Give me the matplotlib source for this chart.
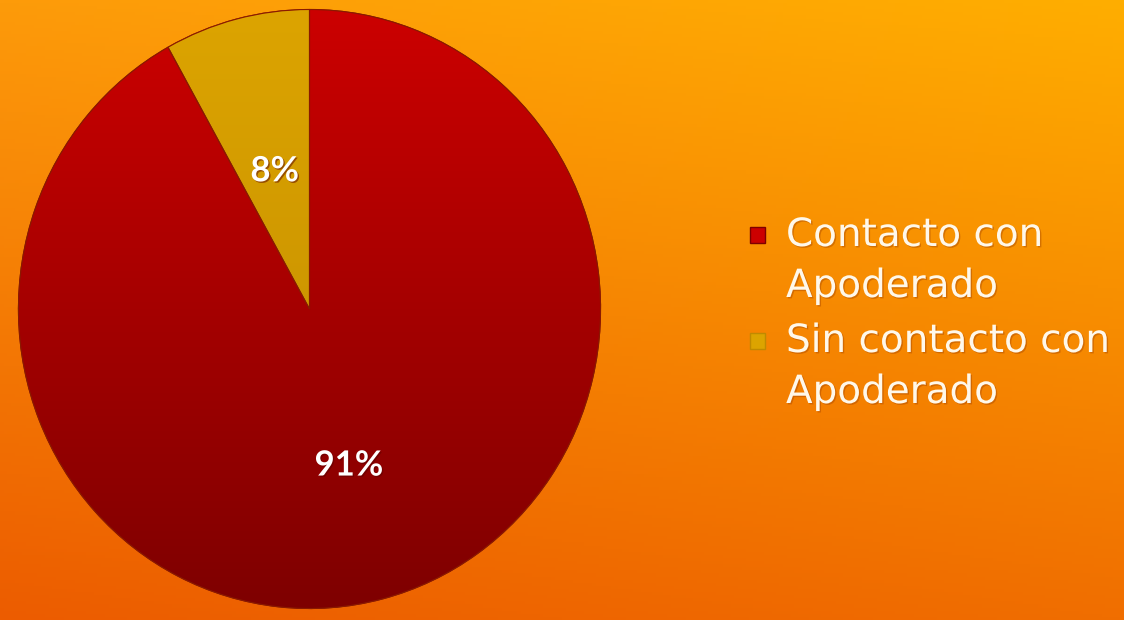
import numpy as np
import matplotlib
matplotlib.use('Agg')
import matplotlib.pyplot as plt
import matplotlib.patheffects as pe
from matplotlib.patches import Rectangle, PathPatch
from matplotlib.colors import LinearSegmentedColormap

labels = ['Contacto con\nApoderado', 'Sin contacto con\nApoderado']
values = [91, 8]
pct_labels = ['91%', '8%']
top_colors = ['#cc0000', '#dca400']
bot_colors = ['#7e0000', '#c08a00']

W, H = 1124, 620
fig = plt.figure(figsize=(W / 100, H / 100), dpi=100)

# background gradient (four corners, bilinear)
bg = fig.add_axes([0, 0, 1, 1])
bg.set_axis_off()
tl = np.array([253, 155, 10]) / 255
tr = np.array([255, 174, 0]) / 255
bl = np.array([236, 92, 0]) / 255
br = np.array([240, 110, 0]) / 255
yy, xx = np.mgrid[0:1:200j, 0:1:300j]
img = ((1 - yy)[..., None] * ((1 - xx)[..., None] * tl + xx[..., None] * tr)
       + yy[..., None] * ((1 - xx)[..., None] * bl + xx[..., None] * br))
bg.imshow(img, extent=[0, 1, 0, 1], aspect='auto', origin='upper')
bg.set_xlim(0, 1); bg.set_ylim(0, 1)

# pie (slightly taller than wide, like the reference)
ax = fig.add_axes([17 / W, 10 / H, 585 / W, 602 / H])
wedges, _ = ax.pie(values, startangle=90, counterclock=False, radius=1,
                   wedgeprops=dict(edgecolor='#8a1a00', linewidth=0.8))
ax.set_aspect('auto')

grad = np.linspace(0, 1, 256)[:, None]
for w, c0, c1 in zip(wedges, top_colors, bot_colors):
    w.set_facecolor(c0)
    cmap = LinearSegmentedColormap.from_list('g', [c0, c1])
    im = ax.imshow(grad, cmap=cmap, extent=[-1, 1, -1, 1], origin='upper',
                   aspect='auto', zorder=w.get_zorder() + 0.1)
    im.set_clip_path(w)
    # outline on top of the gradient
    ax.add_patch(PathPatch(w.get_path(), transform=w.get_transform(), fill=False,
                           edgecolor='#8a1a00', lw=0.8, zorder=5))
ax.set_xlim(-1.005, 1.005); ax.set_ylim(-1.005, 1.005)

# percentage labels
shadow = [pe.withSimplePatchShadow(offset=(1, -1), shadow_rgbFace='#5a0000', alpha=0.5)]
cum = np.cumsum([0] + values)
tot = sum(values)
rad = [0.54, 0.475]
for i, (lab, r) in enumerate(zip(pct_labels, rad)):
    mid = 90 - 360 * (cum[i] + values[i] / 2) / tot
    x, y = r * np.cos(np.radians(mid)), r * np.sin(np.radians(mid))
    ax.text(x, y, lab, ha='center', va='center', color='white',
            fontsize=25, fontweight='bold', family='Lato',
            path_effects=shadow, zorder=10)

# legend drawn by hand so the marker sits on the first line
leg_y = [235, 341]
line_gap = 51
txt_fx = [pe.withSimplePatchShadow(offset=(1, -1), shadow_rgbFace='#a04000', alpha=0.4)]
for lab, c0, c1, y in zip(labels, top_colors, bot_colors, leg_y):
    fig.patches.append(Rectangle((750 / W, (H - y - 8) / H), 15 / W, 16 / H,
                                 transform=fig.transFigure, facecolor=c0,
                                 edgecolor=c1, lw=1))
    for k, line in enumerate(lab.split('\n')):
        fig.text(786 / W, (H - y - k * line_gap) / H, line, ha='left', va='center',
                 color='#fff8ea', fontsize=28, family='DejaVu Sans',
                 path_effects=txt_fx)

fig.savefig('out.png', dpi=100)
